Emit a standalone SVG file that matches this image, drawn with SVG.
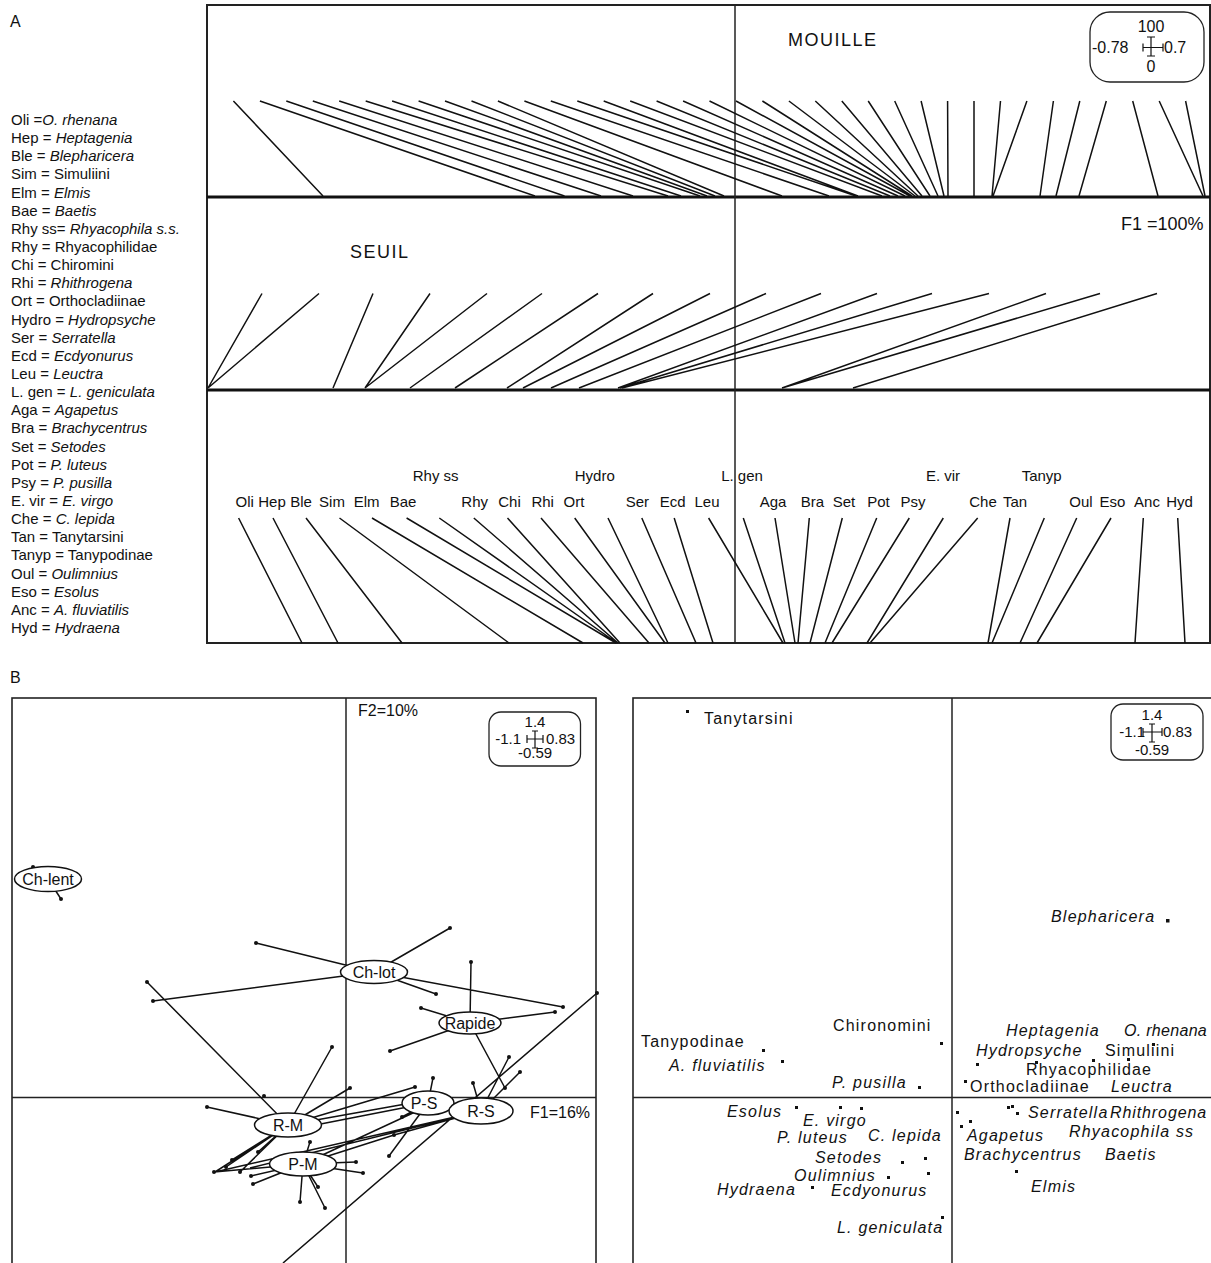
<svg xmlns="http://www.w3.org/2000/svg" width="1211" height="1263" viewBox="0 0 1211 1263">
<style>
text{font-family:"Liberation Sans",Arial,sans-serif;fill:#111}
.leg{font-size:15px}
.it{font-style:italic}
.lab{font-size:15px;text-anchor:middle}
.ttl{font-size:18px;letter-spacing:1.5px}
.big{font-size:16px}
.frame{fill:none;stroke:#222;stroke-width:2}
.sep{stroke:#111;stroke-width:3}
.ax{stroke:#222;stroke-width:1.5}
.ln{stroke:#111;stroke-width:1.5;fill:none}
.nd{fill:#fff;stroke:#111;stroke-width:1.5}
.ndt{font-size:16px;text-anchor:middle}
.sp{font-size:16px;letter-spacing:1.2px}
.dot{fill:#111}
.sb{fill:#fff;stroke:#222;stroke-width:1.3}
.sbt{font-size:15px}
.mid{text-anchor:middle}
.end{text-anchor:end}
</style>

<!-- ===== Panel A ===== -->
<text x="10" y="27" class="big">A</text>
<g id="legend" class="leg">
<text x="11" y="125">Oli =<tspan class="it">O. rhenana</tspan></text>
<text x="11" y="143.1">Hep = <tspan class="it">Heptagenia</tspan></text>
<text x="11" y="161.3">Ble = <tspan class="it">Blepharicera</tspan></text>
<text x="11" y="179.4">Sim = Simuliini</text>
<text x="11" y="197.6">Elm = <tspan class="it">Elmis</tspan></text>
<text x="11" y="215.7">Bae = <tspan class="it">Baetis</tspan></text>
<text x="11" y="233.8">Rhy ss= <tspan class="it">Rhyacophila s.s.</tspan></text>
<text x="11" y="252">Rhy = Rhyacophilidae</text>
<text x="11" y="270.1">Chi = Chiromini</text>
<text x="11" y="288.3">Rhi = <tspan class="it">Rhithrogena</tspan></text>
<text x="11" y="306.4">Ort = Orthocladiinae</text>
<text x="11" y="324.5">Hydro = <tspan class="it">Hydropsyche</tspan></text>
<text x="11" y="342.7">Ser = <tspan class="it">Serratella</tspan></text>
<text x="11" y="360.8">Ecd  = <tspan class="it">Ecdyonurus</tspan></text>
<text x="11" y="379">Leu = <tspan class="it">Leuctra</tspan></text>
<text x="11" y="397.1">L. gen = <tspan class="it">L. geniculata</tspan></text>
<text x="11" y="415.2">Aga = <tspan class="it">Agapetus</tspan></text>
<text x="11" y="433.4">Bra = <tspan class="it">Brachycentrus</tspan></text>
<text x="11" y="451.5">Set = <tspan class="it">Setodes</tspan></text>
<text x="11" y="469.7">Pot = <tspan class="it">P. luteus</tspan></text>
<text x="11" y="487.8">Psy = <tspan class="it">P. pusilla</tspan></text>
<text x="11" y="505.9">E. vir = <tspan class="it">E. virgo</tspan></text>
<text x="11" y="524.1">Che = <tspan class="it">C. lepida</tspan></text>
<text x="11" y="542.2">Tan = Tanytarsini</text>
<text x="11" y="560.4">Tanyp = Tanypodinae</text>
<text x="11" y="578.5">Oul = <tspan class="it">Oulimnius</tspan></text>
<text x="11" y="596.6">Eso = <tspan class="it">Esolus</tspan></text>
<text x="11" y="614.8">Anc = <tspan class="it">A. fluviatilis</tspan></text>
<text x="11" y="633">Hyd = <tspan class="it">Hydraena</tspan></text>
</g>

<g id="panelA-frame">
<rect x="207" y="5" width="1003" height="638" class="frame"/>
<line x1="207" y1="197" x2="1210" y2="197" class="sep"/>
<line x1="207" y1="390" x2="1210" y2="390" class="sep"/>
<line x1="735" y1="5" x2="735" y2="643" class="ax"/>
</g>

<g id="connectors-A">
<path class="ln" d="M233.4 101L323 196M259.9 101L535 196M286.3 101L564.5 196M312.8 101L601 196M339.2 101L633 196M365.7 101L668 196M392.1 101L681 196M418.6 101L700 196M445 101L707 196M471.5 101L715 196M497.9 101L724 196M524.4 101L782 196M550.8 101L829 196M577.3 101L856 196M603.7 101L858 196M630.2 101L882 196M656.6 101L890 196M683.1 101L898 196M709.5 101L905 196M736 101L910 196M762.4 101L912 196M788.9 101L915 196M815.3 101L918 196M841.8 101L922 196M868.2 101L930 196M894.7 101L938 196M921.1 101L944 196M947.6 101L948 196M974 101L974 196M1000.5 101L992 196M1026.9 101L993 196M1053.4 101L1040 196M1079.8 101L1056 196M1106.3 101L1079 196M1132.7 101L1158 196M1159.2 101L1203 196M1185.6 101L1205 196"/>
<path class="ln" d="M262 293.5L208 388M319 293.5L208 388M373 293.5L333 388M430 293.5L365 388M487 293.5L365 388M542 293.5L410 388M598 293.5L455 388M653 293.5L507 388M710 293.5L523 388M766 293.5L551 388M821 293.5L579 388M877 293.5L618 388M932 293.5L620 388M989 293.5L622 388M1046 293.5L782 388M1100 293.5L782 388M1157 293.5L853 388"/>
<path class="ln" d="M238.6 518L302 643M273 518L338 643M306 518L402 643M339.5 518L509 643M372 518L583 643M406.6 518L616 643M439.3 518L617 643M473.8 518L618 643M507.5 518L620 643M541 518L649 643M574.7 518L665 643M608 518L668 643M641.8 518L696 643M674.2 518L713 643M708.6 518L783 643M743.3 518L785 643M775 518L795 643M809.3 518L798 643M842.3 518L810 643M876.7 518L825 643M909.3 518L832 643M943.3 518L867 643M977.7 518L870 643M1010 518L988 643M1044.3 518L992 643M1076.7 518L1020 643M1111 518L1037 643M1143.3 518L1135 643M1177.7 518L1185 643"/>
</g>

<g id="panelA-titles">
<text x="788" y="46" class="ttl">MOUILLE</text>
<text x="350" y="258" class="ttl">SEUIL</text>
<text x="1121" y="230" style="font-size:18px">F1 =100%</text>
</g>

<g id="scaleA">
<rect x="1090" y="12" width="114" height="70" rx="20" class="sb"/>
<text x="1151" y="32" class="sbt mid" style="font-size:16px">100</text>
<text x="1092" y="53" class="sbt" style="font-size:16px">-0.78</text>
<text x="1164" y="53" class="sbt" style="font-size:16px">0.7</text>
<text x="1151" y="72" class="sbt mid" style="font-size:16px">0</text>
<path class="ln" style="stroke-width:1.2" d="M1143 47.5H1163M1143 43.5V51.5M1163 43.5V51.5M1151 37V56M1147 37H1155M1147 56H1155"/>
</g>

<g id="labelsA" class="lab">
<text x="244.7" y="507">Oli</text>
<text x="272" y="507">Hep</text>
<text x="301" y="507">Ble</text>
<text x="332" y="507">Sim</text>
<text x="366.7" y="507">Elm</text>
<text x="403" y="507">Bae</text>
<text x="435.7" y="481">Rhy ss</text>
<text x="474.7" y="507">Rhy</text>
<text x="509.5" y="507">Chi</text>
<text x="542.7" y="507">Rhi</text>
<text x="574" y="507">Ort</text>
<text x="594.8" y="481">Hydro</text>
<text x="637.4" y="507">Ser</text>
<text x="672.6" y="507">Ecd</text>
<text x="707" y="507">Leu</text>
<text x="742" y="481">L. gen</text>
<text x="773" y="507">Aga</text>
<text x="812.5" y="507">Bra</text>
<text x="844" y="507">Set</text>
<text x="878.5" y="507">Pot</text>
<text x="913" y="507">Psy</text>
<text x="943" y="481">E. vir</text>
<text x="983" y="507">Che</text>
<text x="1015" y="507">Tan</text>
<text x="1041.7" y="481">Tanyp</text>
<text x="1081" y="507">Oul</text>
<text x="1112.5" y="507">Eso</text>
<text x="1147" y="507">Anc</text>
<text x="1179.5" y="507">Hyd</text>
</g>

<!-- ===== Panel B ===== -->
<text x="10" y="683" class="big">B</text>

<g id="panelB-left-frame">
<rect x="12" y="698" width="584" height="620" class="frame" style="stroke-width:1.6"/>
<line x1="346" y1="698" x2="346" y2="1263" class="ax"/>
<line x1="12" y1="1097.5" x2="596" y2="1097.5" class="ax"/>
<text x="358" y="716" class="big">F2=10%</text>
<text x="530" y="1118" class="big">F1=16%</text>
</g>

<g id="scaleB1">
<rect x="489" y="712" width="91.5" height="54" rx="12" class="sb"/>
<text x="535" y="727" class="sbt mid">1.4</text>
<text x="521" y="744" class="sbt end">-1.1</text>
<text x="546" y="744" class="sbt">0.83</text>
<text x="535" y="758" class="sbt mid">-0.59</text>
<path class="ln" style="stroke-width:1.2" d="M527 739H543M527 735V743M543 735V743M535 731V748M532 731H538M532 748H538"/>
</g>

<g id="connectors-B">
<path class="ln" d="M48 879L61 899
M374 972L256 943M374 972L450 928M374 972L153 1001M374 972L436 994M374 972L563 1007
M470 1023L471 962M470 1023L421 1008M470 1023L555 1012M470 1023L390 1051M470 1023L505 1088
M288 1125L147 982M288 1125L332 1047M288 1125L350 1088M288 1125L207 1107M288 1125L415 1087M288 1125L428 1100M288 1125L215 1172M288 1125L232 1160M288 1125L258 1152M288 1125L226 1167M288 1125L240 1172
M303 1164L214 1172M303 1164L251 1176M303 1164L253 1184M303 1164L300 1202M303 1164L325 1208M303 1164L318 1187M303 1164L356 1162M303 1164L363 1173M303 1164L394 1135M303 1164L310 1142M303 1164L428 1106
M428 1103L433 1078M428 1103L402 1117M428 1103L389 1156M428 1103L290 1130
M481 1111L509 1057M481 1111L520 1072M481 1111L473 1083M481 1111L394 1135M481 1111L215 1172M481 1111L250 1168
M597 993L283 1263"/>
</g>
<g id="dotsB" class="dot">
<circle cx="33" cy="867" r="2"/><circle cx="61" cy="899" r="2"/>
<circle cx="256" cy="943" r="2"/><circle cx="450" cy="928" r="2"/><circle cx="153" cy="1001" r="2"/><circle cx="436" cy="994" r="2"/><circle cx="563" cy="1007" r="2"/>
<circle cx="471" cy="962" r="2"/><circle cx="421" cy="1008" r="2"/><circle cx="555" cy="1012" r="2"/><circle cx="390" cy="1051" r="2"/><circle cx="505" cy="1088" r="2"/>
<circle cx="147" cy="982" r="2"/><circle cx="264" cy="1096" r="2"/><circle cx="332" cy="1047" r="2"/><circle cx="350" cy="1088" r="2"/><circle cx="207" cy="1107" r="2"/><circle cx="415" cy="1087" r="2"/><circle cx="232" cy="1160" r="2"/><circle cx="258" cy="1152" r="2"/><circle cx="226" cy="1167" r="2"/><circle cx="240" cy="1172" r="2"/>
<circle cx="214" cy="1172" r="2"/><circle cx="251" cy="1176" r="2"/><circle cx="253" cy="1184" r="2"/><circle cx="300" cy="1202" r="2"/><circle cx="325" cy="1208" r="2"/><circle cx="318" cy="1187" r="2"/><circle cx="356" cy="1162" r="2"/><circle cx="363" cy="1173" r="2"/><circle cx="394" cy="1135" r="2"/><circle cx="310" cy="1142" r="2"/>
<circle cx="433" cy="1078" r="2"/><circle cx="402" cy="1117" r="2"/><circle cx="389" cy="1156" r="2"/>
<circle cx="509" cy="1057" r="2"/><circle cx="520" cy="1072" r="2"/><circle cx="473" cy="1083" r="2"/><circle cx="597" cy="993" r="2"/>
</g>

<g id="node-Ch-lent"><ellipse cx="48" cy="879" rx="33.5" ry="12.5" class="nd"/><text x="48" y="885" class="ndt">Ch-lent</text></g>
<g id="node-Ch-lot"><ellipse cx="374" cy="972" rx="33.5" ry="11.5" class="nd"/><text x="374" y="978" class="ndt">Ch-lot</text></g>
<g id="node-Rapide"><ellipse cx="470" cy="1023" rx="31" ry="11" class="nd"/><text x="470" y="1029" class="ndt">Rapide</text></g>
<g id="node-R-M"><ellipse cx="288" cy="1125" rx="33.5" ry="12" class="nd"/><text x="288" y="1131" class="ndt">R-M</text></g>
<g id="node-P-M"><ellipse cx="303" cy="1164" rx="33.5" ry="12" class="nd"/><text x="303" y="1170" class="ndt">P-M</text></g>
<g id="node-P-S"><ellipse cx="428" cy="1103" rx="26" ry="12" class="nd"/><text x="424" y="1109" class="ndt">P-S</text></g>
<g id="node-R-S"><ellipse cx="481" cy="1111" rx="32" ry="13" class="nd"/><text x="481" y="1117" class="ndt">R-S</text></g>

<g id="panelB-right-frame">
<rect x="633" y="698" width="620" height="620" class="frame" style="stroke-width:1.6"/>
<line x1="952" y1="698" x2="952" y2="1263" class="ax"/>
<line x1="633" y1="1097.5" x2="1211" y2="1097.5" class="ax"/>
</g>

<g id="scaleB2">
<rect x="1111" y="704" width="92" height="56" rx="12" class="sb"/>
<text x="1152" y="720" class="sbt mid">1.4</text>
<text x="1145" y="737" class="sbt end">-1.1</text>
<text x="1163" y="737" class="sbt">0.83</text>
<text x="1152" y="755" class="sbt mid">-0.59</text>
<path class="ln" style="stroke-width:1.2" d="M1143 732H1162M1143 728V736M1162 728V736M1152 724V742M1149 724H1155M1149 742H1155"/>
</g>

<g id="species-dots" class="dot">
<rect x="686" y="710" width="3" height="3"/><rect x="1166" y="919" width="3.5" height="3.5"/>
<rect x="940" y="1042" width="3" height="3"/><rect x="762" y="1049" width="3" height="3"/><rect x="781" y="1060" width="3" height="3"/><rect x="918" y="1086" width="3" height="3"/>
<rect x="964" y="1080" width="3" height="3"/><rect x="976" y="1063" width="3" height="3"/><rect x="1035" y="1061" width="3" height="3"/><rect x="1092" y="1059" width="3" height="3"/><rect x="1127" y="1058" width="3" height="3"/><rect x="1152" y="1043" width="3" height="3"/>
<rect x="795" y="1106" width="3" height="3"/><rect x="839" y="1106" width="3" height="3"/><rect x="860" y="1107" width="3" height="3"/>
<rect x="901" y="1161" width="3" height="3"/><rect x="924" y="1157" width="3" height="3"/><rect x="887" y="1176" width="3" height="3"/><rect x="927" y="1172" width="3" height="3"/><rect x="811" y="1186" width="3" height="3"/><rect x="941" y="1216" width="3" height="3"/>
<rect x="956" y="1111" width="3" height="3"/><rect x="960" y="1125" width="3" height="3"/><rect x="969" y="1120" width="3" height="3"/><rect x="1007" y="1106" width="3" height="3"/><rect x="1011" y="1105" width="3" height="3"/><rect x="1016" y="1112" width="3" height="3"/><rect x="1015" y="1170" width="3" height="3"/>
</g>

<g id="species-labels" class="sp">
<text x="704" y="724">Tanytarsini</text>
<text x="1051" y="922" class="it">Blepharicera</text>
<text x="833" y="1031">Chironomini</text>
<text x="641" y="1047">Tanypodinae</text>
<text x="669" y="1071" class="it">A. fluviatilis</text>
<text x="832" y="1088" class="it">P. pusilla</text>
<text x="1006" y="1036" class="it">Heptagenia</text>
<text x="1124" y="1036" class="it" style="letter-spacing:0.3px">O. rhenana</text>
<text x="976" y="1056" class="it">Hydropsyche</text>
<text x="1105" y="1056">Simuliini</text>
<text x="1026" y="1075">Rhyacophilidae</text>
<text x="970" y="1092">Orthocladiinae</text>
<text x="1111" y="1092" class="it">Leuctra</text>
<text x="727" y="1117" class="it">Esolus</text>
<text x="803" y="1126" class="it">E. virgo</text>
<text x="777" y="1143" class="it">P. luteus</text>
<text x="868" y="1141" class="it">C. lepida</text>
<text x="815" y="1163" class="it">Setodes</text>
<text x="794" y="1181" class="it">Oulimnius</text>
<text x="717" y="1195" class="it">Hydraena</text>
<text x="831" y="1196" class="it">Ecdyonurus</text>
<text x="837" y="1233" class="it">L. geniculata</text>
<text x="1028" y="1118" class="it">Serratella</text>
<text x="1110" y="1118" class="it" style="letter-spacing:0.9px">Rhithrogena</text>
<text x="967" y="1141" class="it">Agapetus</text>
<text x="1069" y="1137" class="it">Rhyacophila ss</text>
<text x="964" y="1160" class="it">Brachycentrus</text>
<text x="1105" y="1160" class="it">Baetis</text>
<text x="1031" y="1192" class="it">Elmis</text>
</g>
</svg>
